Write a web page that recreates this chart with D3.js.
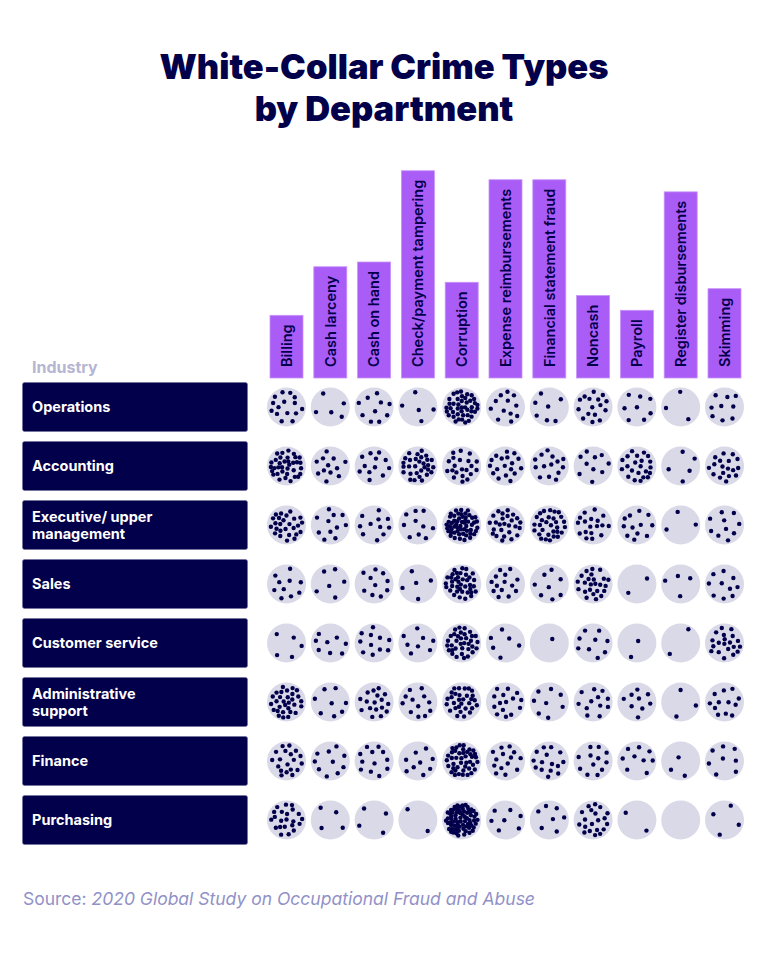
<!DOCTYPE html>
<html>
<head>
<meta charset="utf-8">
<script src="https://cdn.jsdelivr.net/npm/d3@7/dist/d3.min.js"></script>
<style>
  html, body { margin: 0; padding: 0; background: #ffffff; }
  svg { display: block; }
</style>
</head>
<body>
<svg id="chart" width="768" height="961"></svg>
<script>
const crimeTypes = ["Billing", "Cash larceny", "Cash on hand", "Check/payment tampering", "Corruption",
  "Expense reimbursements", "Financial statement fraud", "Noncash", "Payroll", "Register disbursements", "Skimming"];
const departments = ["Operations", "Accounting", "Executive/ upper management", "Sales", "Customer service",
  "Administrative support", "Finance", "Purchasing"];
const departmentLines = [["Operations"], ["Accounting"], ["Executive/ upper", "management"], ["Sales"],
  ["Customer service"], ["Administrative", "support"], ["Finance"], ["Purchasing"]];
const titleLines = ["White-Collar Crime Types", "by Department"];
// dot counts per department (rows) and crime type (columns)
const operations     = [15, 5, 10, 5, 42, 12, 7, 16, 8, 3, 9];
const accounting     = [35, 12, 12, 30, 21, 18, 14, 10, 22, 5, 18];
const executive      = [26, 11, 11, 10, 55, 26, 30, 18, 12, 3, 10];
const sales          = [10, 6, 10, 5, 38, 14, 8, 24, 2, 4, 10];
const customerService= [5, 8, 11, 8, 35, 6, 1, 9, 2, 2, 20];
const adminSupport   = [30, 8, 17, 12, 30, 15, 8, 12, 9, 3, 12];
const finance        = [19, 10, 12, 9, 42, 14, 15, 12, 9, 3, 8];
const purchasing     = [22, 4, 4, 2, 70, 7, 7, 20, 2, 0, 4];
const values = [operations, accounting, executive, sales, customerService, adminSupport, finance, purchasing];

const NAVY = "#03004b", PURPLE = "#aa5cf6", CIRCLE = "#d9d9e8";
const svg = d3.select("#chart");
const FONT = "Inter, 'Noto Sans', 'DejaVu Sans', sans-serif";

// Title
titleLines.forEach((ln, i) => {
  svg.append("text").attr("text-anchor", "middle").attr("x", 384).attr("y", 79 + i * 42)
    .attr("font-family", FONT).attr("font-weight", 900).attr("font-size", 34.5).attr("fill", NAVY)
    .text(ln);
});

// scales
const x = d3.scaleBand().domain(crimeTypes).range([270, 741]).paddingInner(10.8 / 43.8).paddingOuter(0);
const y = d3.scaleBand().domain(departments).range([382.5, 844.5]).paddingInner(10 / 59).paddingOuter(0);
const colCenter = d => x(d) + x.bandwidth() / 2;
const rowCenter = d => y(d) + y.bandwidth() / 2;
const headerBottom = 378;

// Column headers
const hdr = svg.append("g");
crimeTypes.forEach(c => {
  const g = hdr.append("g");
  const rect = g.append("rect");
  const t = g.append("text")
    .attr("transform", `translate(${colCenter(c)},${headerBottom - 11}) rotate(-90)`)
    .attr("dy", "0.36em")
    .attr("font-family", FONT).attr("font-weight", 600).attr("font-size", 14.5).attr("fill", NAVY)
    .text(c);
  const len = t.node().getComputedTextLength();
  const h = len + 20;
  rect.attr("x", x(c)).attr("width", x.bandwidth()).attr("y", headerBottom - h).attr("height", h)
    .attr("fill", PURPLE).attr("stroke", "#c795f9").attr("stroke-width", 0.8);
});

// Industry label
svg.append("text").attr("x", 32).attr("y", 373).attr("font-family", FONT).attr("font-weight", 700)
  .attr("font-size", 16).attr("fill", "#b6b6d2").text("Industry");

// Row labels
departments.forEach((d, i) => {
  const cy = rowCenter(d);
  svg.append("rect").attr("x", 22.5).attr("y", y(d)).attr("width", 225).attr("height", y.bandwidth())
    .attr("rx", 2).attr("fill", NAVY).attr("stroke", "#6e6e9a").attr("stroke-width", 0.6);
  const lines = departmentLines[i];
  const offs = lines.length === 1 ? [5] : [-3, 13.5];
  lines.forEach((ln, j) => {
    svg.append("text").attr("x", 32).attr("y", cy + offs[j]).attr("font-family", FONT)
      .attr("font-weight", 700).attr("font-size", 14.5).attr("fill", "#ffffff").text(ln);
  });
});

// Circles with dots
const R = 19.5, dotR = 2.2, inner = R - 3.6;
let seed = 1;
departments.forEach((d, i) => {
  crimeTypes.forEach((c, j) => {
    const cx = colCenter(c), cy = rowCenter(d);
    const g = svg.append("g").attr("transform", `translate(${cx},${cy})`);
    g.append("circle").attr("r", R).attr("fill", CIRCLE);
    const n = values[i][j];
    const rnd = d3.randomLcg((seed++) * 0.0137 % 1);
    const pts = [];
    for (let k = 0; k < n; k++) {
      let best = null, bestD = -1;
      for (let t = 0; t < 30; t++) {
        const a = rnd() * Math.PI * 2, r = Math.sqrt(rnd()) * inner;
        const p = [r * Math.cos(a), r * Math.sin(a)];
        let md = Infinity;
        for (const q of pts) { const dd = Math.hypot(p[0]-q[0], p[1]-q[1]); if (dd < md) md = dd; }
        if (md > bestD) { bestD = md; best = p; }
      }
      pts.push(best);
    }
    g.selectAll("circle.dot").data(pts).join("circle").attr("class", "dot")
      .attr("cx", p => p[0]).attr("cy", p => p[1]).attr("r", dotR).attr("fill", NAVY);
  });
});

// Source
const src = svg.append("text").attr("x", 23).attr("y", 905).attr("font-family", FONT)
  .attr("font-size", 17.5).attr("fill", "#9191c8");
src.append("tspan").text("Source: ");
src.append("tspan").attr("font-style", "italic").text("2020 Global Study on Occupational Fraud and Abuse");
</script>
</body>
</html>
